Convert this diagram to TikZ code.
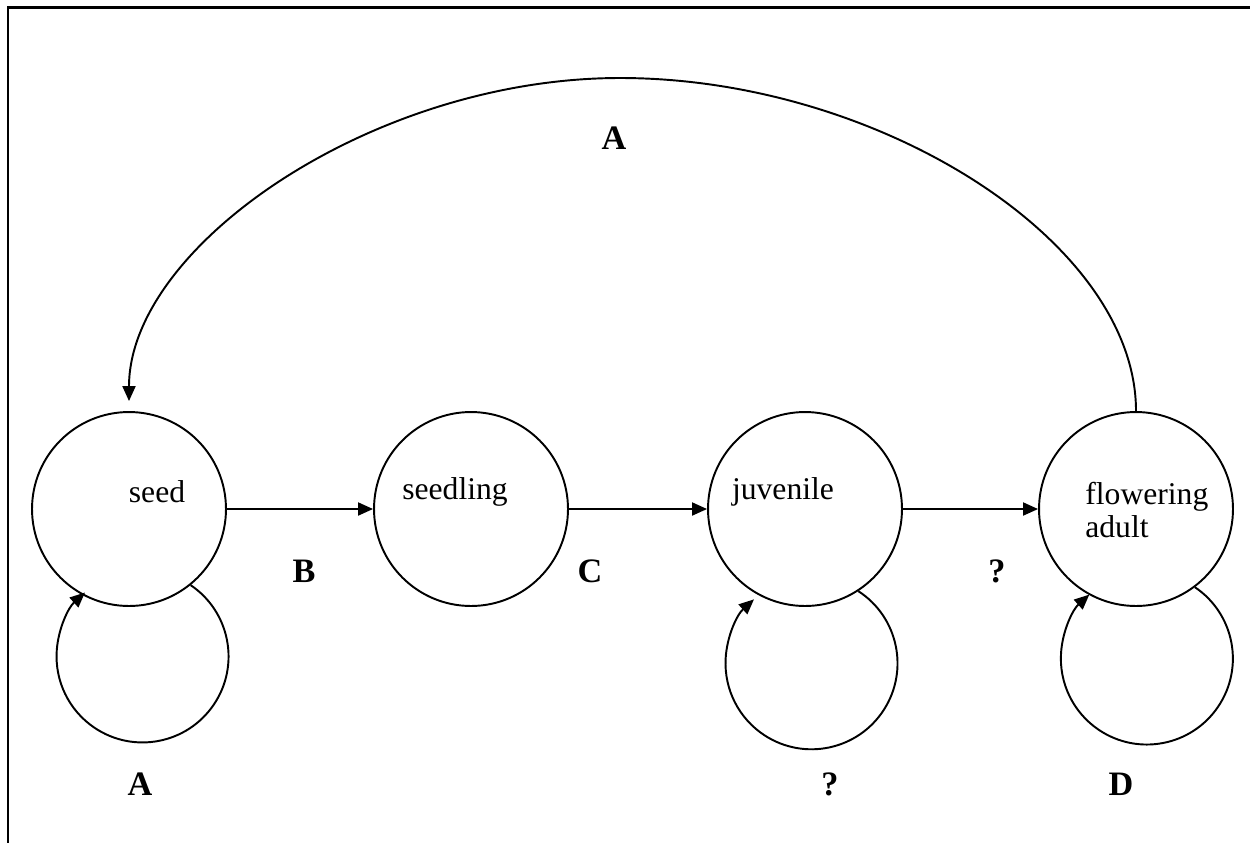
\documentclass[tikz,border=0pt]{standalone}
\usepackage{fontspec}
\setmainfont{Liberation Serif}
\usetikzlibrary{arrows.meta}
\begin{document}
\begin{tikzpicture}[x=0.02cm,y=0.02cm,
  state/.style={circle,draw,line width=1.1pt,minimum size=3.88cm,inner sep=0pt},
  stxt/.style={inner sep=0pt,font=\fontsize{18}{20}\selectfont},
  lbl/.style={inner sep=0pt,font=\fontsize{19.5}{21}\selectfont\bfseries},
  conn/.style={line width=1.1pt,-{Triangle[length=0.3cm,width=0.26cm]}}]
\useasboundingbox (0,0) rectangle (1250,-843);
\draw[line width=1.7pt] (1250,-7) -- (8,-7) -- (8,-843);
% states
\node[state] (seed) at (129,-509) {};
\node[state] (seedling) at (471,-509) {};
\node[state] (juvenile) at (805,-509) {};
\node[state] (fa) at (1136,-509) {};
\node[stxt] (seedt) at (157,-492) {seed};
\node[stxt] (seedlingt) at (455,-492) {seedling};
\node[stxt] (juvenilet) at (783,-492) {juvenile};
\node[stxt,align=left,anchor=west] (fat) at (1085,-510) {flowering\\[-1pt]adult};
% transitions
\draw[conn] (seed.east) -- (seedling.west);
\draw[conn] (seedling.east) -- (juvenile.west);
\draw[conn] (juvenile.east) -- (fa.west);
\coordinate (arctop) at (620,-78);
\draw[conn,shorten >=0.2cm] (fa.north) .. controls +(0,170) and +(258,0) .. (arctop)
   .. controls +(-247,0) and +(0,165) .. (seed.north);
% self loops
\draw[conn] (seed.-51) arc[start angle=56,end angle=-228,radius=86];
\draw[conn] (juvenile.-57) arc[start angle=57,end angle=-228,radius=86];
\draw[conn] (fa.-53) arc[start angle=56,end angle=-228,radius=86];
% labels
\node[lbl] (lA) at (614,-138) {A};
\node[lbl] (lB) at (304,-571) {B};
\node[lbl] (lC) at (590,-571) {C};
\node[lbl] (lQ) at (997,-571) {?};
\node[lbl] (lA2) at (140,-784) {A};
\node[lbl] (lQ2) at (830,-784) {?};
\node[lbl] (lD) at (1121,-784) {D};
\end{tikzpicture}
\end{document}
